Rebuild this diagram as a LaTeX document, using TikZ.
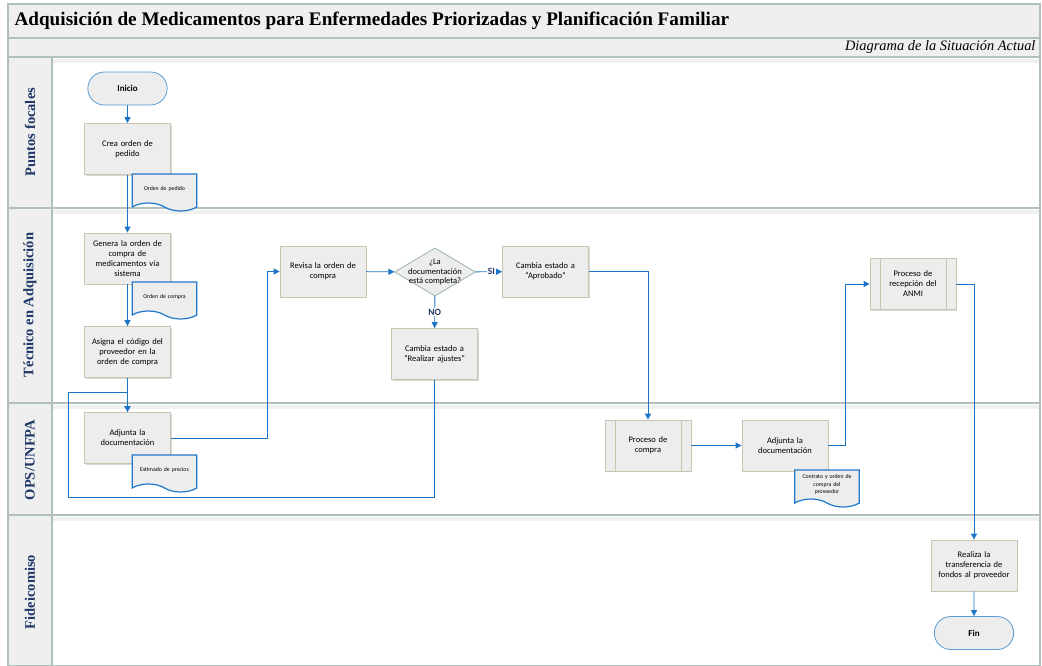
\documentclass[tikz,border=0pt]{standalone}
\usepackage{fontspec}
\setmainfont{Liberation Serif}
\newfontfamily\boxfont{Carlito}
\usepackage{tikz}
\usetikzlibrary{arrows.meta,shapes.geometric,shapes.symbols,shapes.misc,shadows,positioning}

\definecolor{flowblue}{HTML}{1C74C6}
\definecolor{termblue}{HTML}{5B9BD5}
\definecolor{docblue}{HTML}{1F78C9}
\definecolor{boxline}{HTML}{CBC4B0}
\definecolor{boxfill}{HTML}{EDEDED}
\definecolor{lanegreen}{HTML}{AFC1B9}
\definecolor{lanenavy}{HTML}{1F3868}
\definecolor{rhombline}{HTML}{9EB4AC}
\definecolor{bandfill}{HTML}{EFEFEF}

\tikzset{
    >={Triangle[length=6pt,width=6pt]},
    flow/.style={draw=flowblue, line width=0.9pt, ->},
    taskbox/.style={
        rectangle,
        draw=boxline,
        line width=0.8pt,
        fill=boxfill,
        minimum width=86pt,
        minimum height=51pt,
        text width=78pt,
        align=center,
        font=\boxfont\fontsize{8.5}{10}\selectfont,
        drop shadow={shadow xshift=1.2pt, shadow yshift=-1.2pt, fill=black!30}
    },
    subprocbox/.style={
        taskbox,
        text width=62pt,
        path picture={
            \draw[boxline, line width=0.8pt]
                ([xshift=10pt]path picture bounding box.north west) --
                ([xshift=10pt]path picture bounding box.south west);
            \draw[boxline, line width=0.8pt]
                ([xshift=-10pt]path picture bounding box.north east) --
                ([xshift=-10pt]path picture bounding box.south east);
        }
    },
    terminal/.style={
        rounded rectangle,
        draw=termblue,
        line width=0.8pt,
        fill=boxfill,
        minimum width=86pt,
        minimum height=33pt,
        font=\boxfont\bfseries\fontsize{9}{10}\selectfont
    },
    docnote/.style={
        tape,
        tape bend top=none,
        tape bend bottom=out and in,
        tape bend height=8pt,
        draw=docblue,
        line width=1.2pt,
        fill=boxfill,
        minimum width=63pt,
        minimum height=37pt,
        text width=58pt,
        align=center,
        font=\boxfont\fontsize{5.8}{7.5}\selectfont
    },
    decision/.style={
        diamond,
        aspect=1.68,
        draw=rhombline,
        line width=0.8pt,
        fill=boxfill,
        inner sep=-3pt,
        align=center,
        font=\boxfont\fontsize{8.5}{9.5}\selectfont
    },
    branch/.style={font=\boxfont\bfseries\fontsize{9.5}{10}\selectfont, text=lanenavy, fill=white, inner sep=1pt},
    lanename/.style={rotate=90, font=\bfseries\fontsize{14.5}{16}\selectfont, text=lanenavy},
    laneline/.style={draw=lanegreen, line width=1.4pt},
}

\begin{document}
\begin{tikzpicture}[x=1pt, y=-1pt]
\useasboundingbox (0,0) rectangle (1042,666);

% bands and lanes
\fill[bandfill] (8,4) rectangle (1040,57);
\fill[bandfill] (8,57) rectangle (52,666);
\fill[black!6] (52,59) rectangle (1040,63);
\fill[black!6] (52,210) rectangle (1040,214);
\fill[black!6] (52,405) rectangle (1040,409);
\fill[black!6] (52,517) rectangle (1040,521);
\draw[laneline] (8,4) rectangle (1040,666);
\draw[laneline] (8,38) -- (1040,38);
\draw[laneline] (8,57) -- (1040,57);
\draw[laneline] (8,208) -- (1040,208);
\draw[laneline] (8,403) -- (1040,403);
\draw[laneline] (8,515) -- (1040,515);
\draw[laneline] (52,57) -- (52,666);

\node[anchor=west, font=\bfseries\fontsize{19.2}{21}\selectfont] (title) at (11,21)
    {Adquisición de Medicamentos para Enfermedades Priorizadas y Planificación Familiar};
\node[anchor=east, font=\itshape\fontsize{14.4}{16}\selectfont] (subtitle) at (1039,47.5)
    {Diagrama de la Situación Actual};

\node[lanename] (lanepf) at (30,132) {Puntos focales};
\node[lanename] (laneta) at (30,305) {Técnico en Adquisición};
\node[lanename] (laneops) at (30,460) {OPS/UNFPA};
\node[lanename] (lanefid) at (30,592) {Fideicomiso};

% steps
\node[terminal] (inicio) at (127.5,88.5) {Inicio};
\node[taskbox] (crea) at (127.5,149) {Crea orden de\\pedido};
\node[taskbox] (genera) at (127.5,258.5) {Genera la orden de\\compra de\\medicamentos vía\\sistema};
\node[taskbox] (asigna) at (127.5,352) {Asigna el código del\\proveedor en la\\orden de compra};
\node[taskbox] (adjuno) at (127.5,438) {Adjunta la\\documentación};
\node[taskbox] (revisa) at (323,271.5) {Revisa la orden de\\compra};
\node[decision] (completa) at (435,272) {¿La\\documentación\\está completa?};
\node[taskbox] (aprobado) at (545.5,271.5) {Cambia estado a\\“Aprobado”};
\node[taskbox] (ajustes) at (434.5,354) {Cambia estado a\\“Realizar ajustes”};
\node[subprocbox] (compra) at (648,445.5) {Proceso de\\compra};
\node[taskbox] (adjdos) at (785,445.5) {Adjunta la\\documentación};
\node[subprocbox] (recepcion) at (913,284) {Proceso de\\recepción del\\ANMI};
\node[taskbox] (transf) at (974,565.5) {Realiza la\\transferencia de\\fondos al proveedor};
\node[terminal] (fin) at (974,633) {Fin};

% documents
\node[docnote] (docpedido) at (164.5,188.5) {Orden de pedido};
\node[docnote] (doccompra) at (164.5,296.5) {Orden de compra};
\node[docnote] (docprecios) at (164.5,469.5) {Estimado de precios};
\node[docnote] (doccontrato) at (827,484.5) {Contrato y orden de\\compra del\\proveedor};

% loop corners
\coordinate (loopbot) at (68,497);
\coordinate (looptop) at (68,392);

% flow
\draw[flow] (inicio) -- (crea);
\draw[flow] (crea) -- (genera);
\draw[flow] (genera) -- (asigna);
\draw[flow] (asigna) -- (adjuno);
\draw[flow] (adjuno.east) -- ++(97,0) |- (revisa.west);
\draw[flow] (revisa) -- (completa);
\draw[flow] (completa) -- node[branch, pos=0.6] (si) {SI} (aprobado);
\draw[flow] (completa) -- node[branch, pos=0.5] (no) {NO} (ajustes);
\draw[flow] (ajustes.south) |- (loopbot) -- (looptop) -| (adjuno.north);
\draw[flow] (aprobado.east) -| (compra.north);
\draw[flow] (compra) -- (adjdos);
\draw[flow] (adjdos.east) -- ++(17,0) |- (recepcion.west);
\draw[flow] (recepcion.east) -| (transf.north);
\draw[flow] (transf) -- (fin);
\end{tikzpicture}
\end{document}
